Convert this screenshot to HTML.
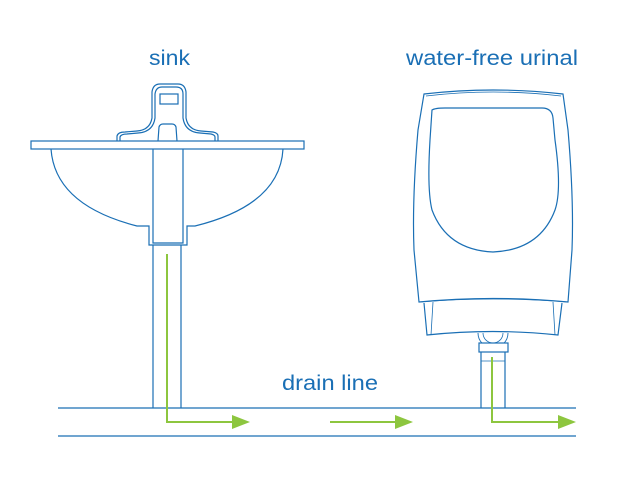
<!DOCTYPE html>
<html><head><style>html,body{margin:0;padding:0;background:#fff;}svg{display:block}</style></head>
<body>
<svg width="629" height="480" viewBox="0 0 629 480" xmlns="http://www.w3.org/2000/svg">
<g fill="none" stroke="#1a6fb5" stroke-width="1.2">
  <rect x="31" y="141" width="273" height="8"/>
  <path d="M117 141 L117 136 Q118 132 125 132 L137 131 Q150 130 152 118 L152 92 Q153 84 160 84 L178 84 Q185 84 186 92 L186 118 Q188 130 201 131 L213 132 Q218 133 218 136 L218 141"/>
  <path d="M120 141 L120 137 Q121 134 127 134 L138 133 Q153 132 155 118 L155 94 Q156 87 162 87 L176 87 Q183 87 183 94 L183 118 Q185 132 200 133 L211 134 Q215 135 215 137 L215 141"/>
  <rect x="160" y="94" width="18" height="10"/>
  <path d="M158 141 L159 127 Q160 124 163 124 L172 124 Q175 124 176 127 L177 141"/>
  <path d="M51 149 Q55 205 137 226 L149 226 L149 245 L187 245 L187 226 L195 226 Q280 205 283 149"/>
  <path d="M153 149 L153 243 L183 243 L183 149"/>
  <path d="M153 245 L153 408 M181 245 L181 408"/>
  <line x1="58" y1="408" x2="576" y2="408"/>
  <line x1="58" y1="436" x2="576" y2="436"/>
  <path d="M424 94 Q493 86 563 94 L568 130 Q574 200 572 250 L568 302 Q493 295 419 302 L414 250 Q412 200 418 130 Z"/>
  <path d="M426 96 Q493 88 561 96" stroke-width="0.8"/>
  <path d="M432 110 Q435 108 445 108 L542 108 Q552 108 553 118 L555 140 Q562 190 555 210 Q540 250 493 252 Q447 250 432 210 Q427 190 430 140 Z"/>
  <path d="M419 302 Q493 296 568 302" stroke-width="0.8"/>
  <path d="M424 303 L427 335 Q493 328 558 335 L562 303"/>
  <path d="M433 302 L431 335 M553 302 L555 335" stroke-width="0.8"/>
  <path d="M478 333 A15 15 0 0 0 508 333" stroke-width="0.9"/>
  <path d="M483 333 A10 10 0 0 0 503 333" stroke-width="0.8"/>
  <rect x="479" y="343" width="29" height="9" fill="#fff"/>
  <path d="M481 352 L481 408 M505 352 L505 408"/>
  <line x1="481" y1="361" x2="505" y2="361" stroke-width="0.8"/>
</g>
<g fill="none" stroke="#8dc63f" stroke-width="2">
  <path d="M167 254 L167 422 L235 422"/>
  <line x1="330" y1="422" x2="398" y2="422"/>
  <path d="M492 357 L492 422 L562 422"/>
</g>
<g fill="#8dc63f">
  <polygon points="232,415 250,422 232,429"/>
  <polygon points="395,415 413,422 395,429"/>
  <polygon points="558,415 576,422 558,429"/>
</g>
<g fill="#1a6fb5" font-family="Liberation Sans, sans-serif" font-size="21">
  <text x="149" y="65" textLength="41" lengthAdjust="spacingAndGlyphs">sink</text>
  <text x="406" y="65" textLength="172" lengthAdjust="spacingAndGlyphs">water-free urinal</text>
  <text x="282" y="390" textLength="96" lengthAdjust="spacingAndGlyphs">drain line</text>
</g>
</svg>
</body></html>
